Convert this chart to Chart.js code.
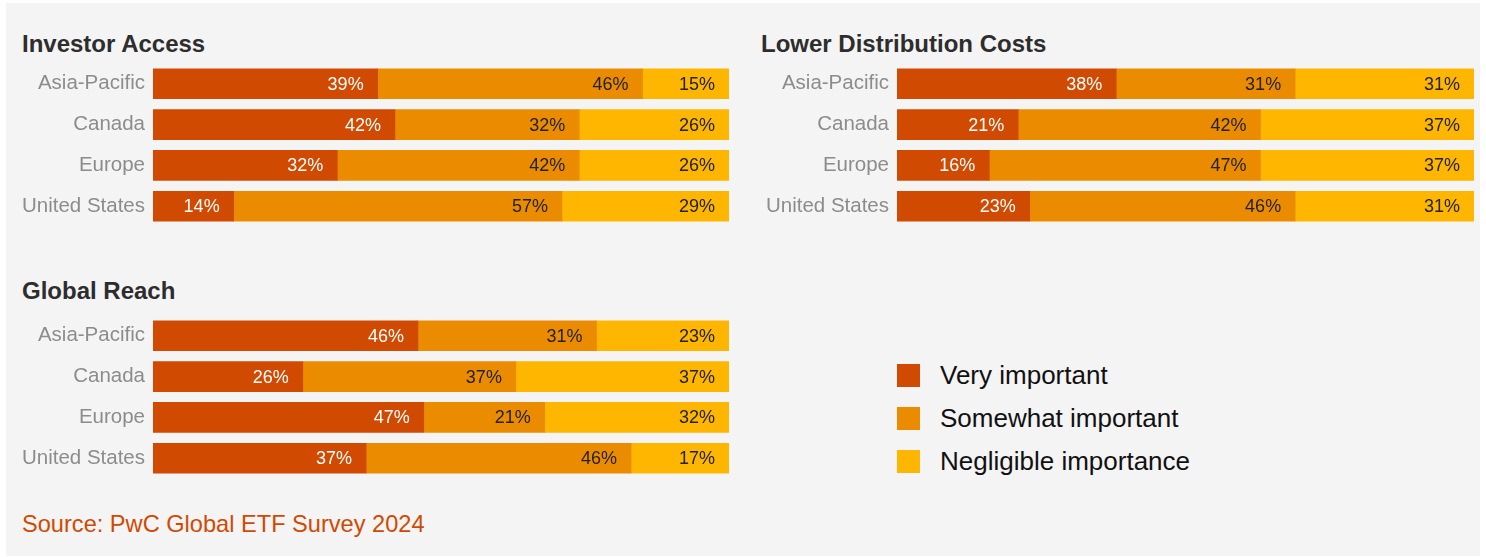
<!DOCTYPE html>
<html>
<head>
<meta charset="utf-8">
<script src="https://cdn.jsdelivr.net/npm/chart.js@4"></script>
<style>
  body { margin: 0; background: #fff; font-family: "Liberation Sans", Arial, sans-serif; }
  #panel { position: absolute; left: 6px; top: 3px; width: 1474px; height: 553px; background: #f4f4f4; }
  canvas { position: absolute; }
  .title { position: absolute; font-weight: bold; font-size: 24px; line-height: 24px; color: #2d2d2d; }
  .legend { position: absolute; left: 897px; font-size: 26px; line-height: 26px; color: #111; }
  .legend span { display: inline-block; width: 23px; height: 23px; vertical-align: -3px; margin-right: 20px; }
  #source { position: absolute; left: 22px; top: 512px; font-size: 23.6px; line-height: 24px; color: #d04a02; }
</style>
</head>
<body>
<div id="panel"></div>

<div class="title" style="left:22px; top:32px;">Investor Access</div>
<div class="title" style="left:761px; top:32px;">Lower Distribution Costs</div>
<div class="title" style="left:22px; top:279px;">Global Reach</div>

<!-- canvases are 40px taller than the bar rows: the y axis keeps ~20px of label padding at each end -->
<canvas id="access" width="719" height="204" style="left:10px; top:43px;"></canvas>
<canvas id="costs" width="724" height="204" style="left:750px; top:43px;"></canvas>
<canvas id="reach" width="719" height="204" style="left:10px; top:295px;"></canvas>

<div class="legend" style="top:362px;"><span style="background:#d04a02"></span>Very important</div>
<div class="legend" style="top:405px;"><span style="background:#eb8c00"></span>Somewhat important</div>
<div class="legend" style="top:448px;"><span style="background:#ffb600"></span>Negligible importance</div>

<div id="source">Source: PwC Global ETF Survey 2024</div>

<script>
const regions = ['Asia-Pacific', 'Canada', 'Europe', 'United States'];
const levels = ['Very important', 'Somewhat important', 'Negligible importance'];
const colors = ['#d04a02', '#eb8c00', '#ffb600'];

// percentages per region, one array per importance level
const accessVery = [39, 42, 32, 14];
const accessSome = [46, 32, 42, 57];
const accessNeg  = [15, 26, 26, 29];

const costsVery = [38, 21, 16, 23];
const costsSome = [31, 42, 47, 46];
const costsNeg  = [31, 37, 37, 31];

const reachVery = [46, 26, 47, 37];
const reachSome = [31, 37, 21, 46];
const reachNeg  = [23, 37, 32, 17];

// writes the % value at the right end of each segment
const segmentLabels = {
    id: 'segmentLabels',
    afterDatasetsDraw(chart) {
        const ctx = chart.ctx;
        ctx.save();
        ctx.font = '18px "Liberation Sans", Arial, sans-serif';
        ctx.textAlign = 'right';
        ctx.textBaseline = 'middle';
        chart.data.datasets.forEach((ds, i) => {
            const meta = chart.getDatasetMeta(i);
            ctx.fillStyle = i === 0 ? '#ffffff' : '#222222';
            meta.data.forEach((bar, j) => {
                ctx.fillText(ds.data[j] + '%', bar.x - 14, bar.y + 1);
            });
        });
        ctx.restore();
    }
};

function drawPanel(id, very, some, neg, axisWidth) {
    const series = [very, some, neg];
    new Chart(document.getElementById(id), {
        type: 'bar',
        data: {
            labels: regions,
            datasets: series.map((d, i) => ({
                label: levels[i],
                data: d,
                backgroundColor: colors[i],
                barThickness: 30,
                borderWidth: 0
            }))
        },
        options: {
            indexAxis: 'y',
            responsive: false,
            animation: false,
            devicePixelRatio: 1,
            layout: { padding: 0 },
            plugins: { legend: { display: false }, tooltip: { enabled: false } },
            scales: {
                x: { stacked: true, min: 0, max: 100, display: false },
                y: {
                    stacked: true,
                    grid: { display: false, drawTicks: false },
                    border: { display: false },
                    ticks: {
                        color: '#8c8c8c',
                        padding: 8,
                        font: { family: '"Liberation Sans", Arial, sans-serif', size: 20.5 }
                    },
                    afterFit: scale => { scale.width = axisWidth; }
                }
            }
        },
        plugins: [segmentLabels]
    });
}

drawPanel('access', accessVery, accessSome, accessNeg, 143);
drawPanel('costs', costsVery, costsSome, costsNeg, 147);
drawPanel('reach', reachVery, reachSome, reachNeg, 143);
</script>
</body>
</html>
